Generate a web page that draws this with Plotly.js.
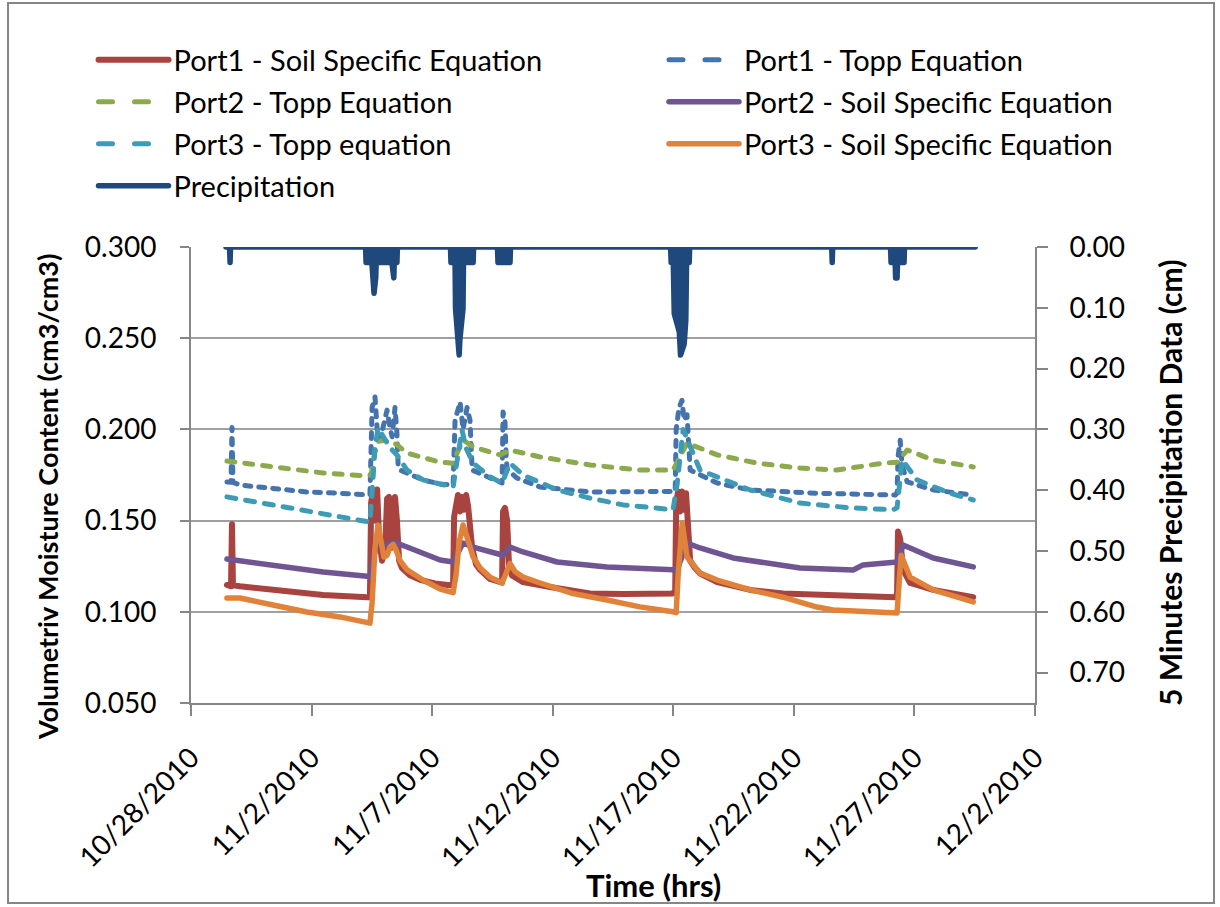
<!DOCTYPE html>
<html><head><meta charset="utf-8">
<script src="https://cdn.plot.ly/plotly-3.0.1.min.js"></script>
<style>
html,body{margin:0;padding:0;background:#fff;}
#chart{width:1220px;height:907px;}
.scatterlayer .js-line{stroke-linecap:round;stroke-linejoin:round;}
.legendlines path{stroke-linecap:round;}
.legendlines path[style*="dasharray"]{stroke-dasharray:14px,22px !important;}
</style></head><body><div id="chart"></div>
<script>
// Time is stored as days since 10/28/2010 00:00
const T0 = Date.UTC(2010, 9, 28);
const xTickDays = [0, 5, 10, 15, 20, 25, 30, 35];
const xTickLabels = ['10/28/2010','11/2/2010','11/7/2010','11/12/2010','11/17/2010','11/22/2010','11/27/2010','12/2/2010'];

// Port1 - Soil Specific Equation
const p1SoilDays = [1.49,1.66,1.70,1.74,2.03,2.74,4.11,5.48,
  7.30,7.42,7.47,7.55,7.63,7.72,7.80,7.92,8.05,8.13,8.21,8.30,8.38,8.46,8.54,8.63,8.75,9.08,9.50,10.12,
  10.74,10.87,10.91,10.99,11.07,11.16,11.24,11.32,11.41,11.49,11.57,11.66,11.82,11.99,12.40,
  12.82,12.90,12.94,13.02,13.11,13.19,13.31,13.77,14.89,16.55,17.92,
  19.99,20.08,20.12,20.20,20.28,20.36,20.45,20.53,20.61,20.70,20.90,21.11,21.82,23.19,24.55,27.33,
  29.20,29.28,29.32,29.41,29.53,29.82,30.78,32.44];
const p1SoilVals = [0.1147,0.1140,0.1480,0.1145,0.1140,0.1130,0.1110,0.1092,
  0.1080,0.1080,0.1600,0.1660,0.1500,0.1670,0.1400,0.1280,0.1350,0.1620,0.1630,0.1350,0.1400,0.1630,0.1500,0.1280,0.1240,0.1200,0.1175,0.1155,
  0.1145,0.1150,0.1520,0.1600,0.1640,0.1550,0.1630,0.1560,0.1640,0.1580,0.1500,0.1350,0.1260,0.1230,0.1180,
  0.1158,0.1160,0.1550,0.1570,0.1500,0.1250,0.1200,0.1163,0.1136,0.1100,0.1098,
  0.1100,0.1120,0.1600,0.1660,0.1550,0.1660,0.1560,0.1650,0.1500,0.1280,0.1240,0.1210,0.1163,0.1120,0.1100,0.1092,
  0.1080,0.1100,0.1440,0.1400,0.1230,0.1158,0.1120,0.1080];

// Port1 - Topp Equation
const p1ToppDays = [1.49,1.66,1.70,1.74,2.03,3.40,4.81,6.18,
  7.30,7.42,7.47,7.51,7.63,7.72,7.84,7.96,8.13,8.25,8.34,8.46,8.54,8.59,8.67,9.62,10.33,
  10.87,10.91,10.95,11.16,11.28,11.45,11.57,11.66,12.82,
  12.90,12.94,13.02,13.07,13.11,13.52,14.48,16.55,
  19.99,20.08,20.12,20.24,20.36,20.45,20.57,20.66,20.70,21.82,23.19,25.96,
  29.20,29.28,29.32,29.41,29.49,29.70,30.78,32.44];
const p1ToppVals = [0.1712,0.1710,0.2010,0.1710,0.1695,0.1679,0.1657,0.1650,
  0.1640,0.1640,0.1900,0.2120,0.2178,0.2000,0.1940,0.2000,0.2106,0.2010,0.1960,0.2120,0.1980,0.1800,0.1777,0.1723,0.1700,
  0.1695,0.1900,0.2050,0.2150,0.2000,0.2120,0.2050,0.1777,0.1706,
  0.1706,0.2095,0.2050,0.1850,0.1780,0.1733,0.1684,0.1657,
  0.1657,0.1660,0.2000,0.2120,0.2160,0.2050,0.2080,0.1850,0.1777,0.1706,0.1668,0.1650,
  0.1640,0.1650,0.1850,0.1940,0.1800,0.1712,0.1668,0.1640];

// Port2 - Topp Equation
const p2ToppDays = [1.49,3.40,5.48,7.30,7.47,7.60,7.76,8.05,8.25,8.50,8.96,10.33,
  10.87,11.00,11.28,11.70,12.82,13.23,14.48,16.55,18.62,
  19.99,20.20,20.57,21.82,23.48,25.26,26.79,28.70,29.28,29.70,30.78,32.44];
const p2ToppVals = [0.1827,0.1794,0.1761,0.1745,0.1750,0.1860,0.1935,0.1940,0.1925,0.1920,0.1870,0.1820,
  0.1815,0.1860,0.1942,0.1904,0.1860,0.1887,0.1849,0.1805,0.1777,
  0.1777,0.1830,0.1925,0.1860,0.1815,0.1788,0.1777,0.1815,0.1820,0.1887,0.1832,0.1794];

// Port2 - Soil Specific Equation
const p2SoilDays = [1.49,2.74,4.11,5.48,7.30,7.42,7.55,7.72,8.13,8.46,8.96,9.62,10.33,
  10.87,11.07,11.28,11.70,12.82,12.94,13.23,13.77,15.18,17.25,
  19.99,20.16,20.57,21.11,22.48,23.89,25.26,27.46,27.87,29.28,29.53,30.78,32.44];
const p2SoilVals = [0.1289,0.1267,0.1240,0.1218,0.1195,0.1190,0.1280,0.1383,0.1366,0.1380,0.1355,0.1322,0.1284,
  0.1273,0.1320,0.1377,0.1355,0.1310,0.1310,0.1355,0.1328,0.1273,0.1246,
  0.1230,0.1230,0.1377,0.1350,0.1295,0.1267,0.1240,0.1229,0.1257,0.1273,0.1366,0.1295,0.1246];

// Port3 - Topp equation
const p3ToppDays = [1.49,3.40,4.81,6.18,7.42,7.51,7.63,7.76,7.96,8.25,8.54,8.96,9.62,
  10.87,11.00,11.24,11.40,11.70,12.40,12.90,13.23,13.77,15.18,16.55,17.92,
  19.99,20.16,20.41,21.11,23.19,25.26,27.33,29.12,29.28,29.49,30.11,31.48,32.44];
const p3ToppVals = [0.1630,0.1586,0.1547,0.1520,0.1492,0.1650,0.1900,0.2008,0.1960,0.1900,0.1860,0.1777,0.1723,
  0.1684,0.1800,0.1997,0.1900,0.1815,0.1740,0.1706,0.1815,0.1750,0.1668,0.1623,0.1586,
  0.1560,0.1700,0.2000,0.1777,0.1668,0.1596,0.1570,0.1560,0.1570,0.1832,0.1723,0.1650,0.1613];

// Port3 - Soil Specific Equation
const p3SoilDays = [1.49,2.03,3.40,4.81,6.18,7.30,7.42,7.51,7.63,7.76,7.88,8.00,8.13,8.25,8.38,8.50,8.67,8.96,9.62,10.33,
  10.87,10.99,11.12,11.28,11.40,11.53,11.70,11.99,12.40,12.90,13.06,13.23,13.44,13.77,14.48,15.84,17.25,18.62,
  19.99,20.12,20.20,20.37,20.57,21.11,21.82,23.19,24.55,25.96,26.63,28.04,
  29.28,29.36,29.45,29.82,30.78,32.44];
const p3SoilVals = [0.1076,0.1076,0.1037,0.0999,0.0972,0.0940,0.0938,0.1050,0.1350,0.1476,0.1380,0.1300,0.1310,0.1355,0.1370,0.1340,0.1280,0.1230,0.1174,0.1125,
  0.1105,0.1200,0.1380,0.1476,0.1430,0.1360,0.1300,0.1240,0.1190,0.1158,0.1210,0.1265,0.1220,0.1190,0.1158,0.1100,0.1065,0.1027,
  0.1000,0.0995,0.1200,0.1487,0.1300,0.1212,0.1174,0.1120,0.1080,0.1026,0.1010,0.1000,
  0.0993,0.1150,0.1310,0.1190,0.1120,0.1054];

// Precipitation (5-minute totals, cm)
const precipDays = [1.45,1.60,1.62,1.64,
  7.24,7.26,7.50,7.52,7.59,7.66,7.68,8.33,8.36,8.41,8.43,8.54,8.56,
  10.76,10.78,10.95,10.97,11.10,11.12,11.15,11.28,11.30,11.70,11.72,
  12.71,12.73,13.23,13.25,
  19.89,19.91,20.00,20.04,20.25,20.30,20.45,20.52,20.55,20.66,20.68,
  26.57,26.59,26.61,
  29.01,29.03,29.20,29.22,29.28,29.30,29.57,29.59,
  32.52];
const precipVals = [0,0,0.0254,0,
  0,0.0254,0.0254,0.0508,0.0762,0.0508,0.0254,0.0254,0.0508,0.0508,0.0254,0.0254,0,
  0,0.0254,0.0254,0.1016,0.1524,0.1778,0.1524,0.1016,0.0254,0.0254,0,
  0,0.0254,0.0254,0,
  0,0.0254,0.0254,0.1100,0.1400,0.1778,0.1600,0.1200,0.0254,0.0254,0,
  0,0.0254,0,
  0,0.0254,0.0254,0.0508,0.0508,0.0254,0.0254,0,
  0];

function toDate(d) {
  const t = new Date(T0 + Math.round(d * 86400000));
  return t.toISOString().slice(0, 19).replace('T', ' ');
}

const FONT = 'Lato, "Open Sans", sans-serif';
const AXC = '#868686';

function series(name, days, vals, color, width, dash, legend) {
  return {
    type: 'scatter', mode: 'lines', name: name, legendgroup: name,
    x: days.map(toDate), y: vals,
    line: {color: color, width: width, dash: dash || 'solid'},
    legend: legend, hoverinfo: 'x+y+name'
  };
}

const traces = [
  series('Port1 - Soil Specific Equation', p1SoilDays, p1SoilVals, '#A9433F', 6, null, 'legend'),
  series('Port1 - Topp Equation', p1ToppDays, p1ToppVals, '#4573AD', 5, '6px,8px', 'legend2'),
  series('Port2 - Topp Equation', p2ToppDays, p2ToppVals, '#8CAA4B', 5, '8px,10px', 'legend'),
  series('Port2 - Soil Specific Equation', p2SoilDays, p2SoilVals, '#6F5592', 5.5, null, 'legend2'),
  series('Port3 - Topp equation', p3ToppDays, p3ToppVals, '#3D9BB6', 5, '9px,10px', 'legend'),
  series('Port3 - Soil Specific Equation', p3SoilDays, p3SoilVals, '#E0823A', 5.5, null, 'legend2'),
  {type: 'scatter', mode: 'lines', name: 'Precipitation fill', showlegend: false,
   x: precipDays.map(toDate), y: precipVals, yaxis: 'y2', fill: 'tozeroy',
   fillcolor: '#1F497D', line: {color: '#1F497D', width: 0}, hoverinfo: 'skip'},
  Object.assign(series('Precipitation', precipDays, precipVals, '#1F497D', 5.5, null, 'legend'), {yaxis: 'y2'})
];

const legendBase = {
  orientation: 'v', xanchor: 'left', yanchor: 'top',
  font: {family: FONT, size: 29, color: '#000'},
  bgcolor: 'rgba(0,0,0,0)', itemwidth: 70, traceorder: 'grouped', tracegroupgap: 1.3
};

const layout = {
  width: 1220, height: 907,
  margin: {l: 191, r: 185, t: 247, b: 204},
  paper_bgcolor: '#fff', plot_bgcolor: '#fff',
  font: {family: FONT, size: 28, color: '#000'},
  showlegend: true,
  legend: Object.assign({}, legendBase, {x: -0.1155, y: 1.466}),
  legend2: Object.assign({}, legendBase, {x: 0.5604, y: 1.466}),
  xaxis: {
    type: 'date', range: [toDate(0), toDate(35)],
    tickvals: xTickDays.map(toDate), ticktext: xTickLabels,
    tickangle: -45, ticks: 'outside', ticklen: 11, tickwidth: 2, tickcolor: AXC,
    showline: true, linecolor: AXC, linewidth: 2, showgrid: false, zeroline: false,
    ticklabelstandoff: 14,
    tickfont: {family: FONT, size: 28, color: '#000'}
  },
  yaxis: {
    range: [0.05, 0.30], dtick: 0.05, tick0: 0, tickformat: '.3f',
    ticks: 'outside', ticklen: 9, tickwidth: 2, tickcolor: AXC,
    showline: true, linecolor: AXC, linewidth: 2,
    showgrid: true, gridcolor: '#A0A0A0', gridwidth: 2, zeroline: false,
    ticklabelstandoff: 18,
    tickfont: {family: FONT, size: 28, color: '#000'}
  },
  yaxis2: {
    overlaying: 'y', side: 'right', anchor: 'x',
    range: [0.75, 0], dtick: 0.1, tick0: 0, tickformat: '.2f',
    ticks: 'outside', ticklen: 11, tickwidth: 2, tickcolor: AXC,
    showline: true, linecolor: AXC, linewidth: 2,
    showgrid: false, zeroline: false,
    ticklabelstandoff: 16,
    tickfont: {family: FONT, size: 28, color: '#000'}
  },
  annotations: [
    {text: '<b>Time (hrs)</b>', xref: 'paper', yref: 'paper', x: 0.5474, y: -0.399,
     xanchor: 'center', yanchor: 'middle', showarrow: false, font: {family: FONT, size: 31, color: '#000'}},
    {text: '<b>Volumetriv Moisture Content (cm3/cm3)</b>', xref: 'paper', yref: 'paper', x: -0.1694, y: 0.4518,
     xanchor: 'center', yanchor: 'middle', textangle: -90, showarrow: false, font: {family: FONT, size: 27, color: '#000'}},
    {text: '<b>5 Minutes Precipitation Data (cm)</b>', xref: 'paper', yref: 'paper', x: 1.16, y: 0.4825,
     xanchor: 'center', yanchor: 'middle', textangle: -90, showarrow: false, font: {family: FONT, size: 30, color: '#000'}}
  ],
  shapes: [
    {type: 'rect', xref: 'paper', yref: 'paper', x0: -0.2168, x1: 1.2121, y0: -0.4386, y1: 1.535,
     line: {color: AXC, width: 2}, fillcolor: 'rgba(0,0,0,0)', layer: 'below'}
  ]
};

Plotly.newPlot('chart', traces, layout, {displayModeBar: false, responsive: false});
</script>
</body></html>
